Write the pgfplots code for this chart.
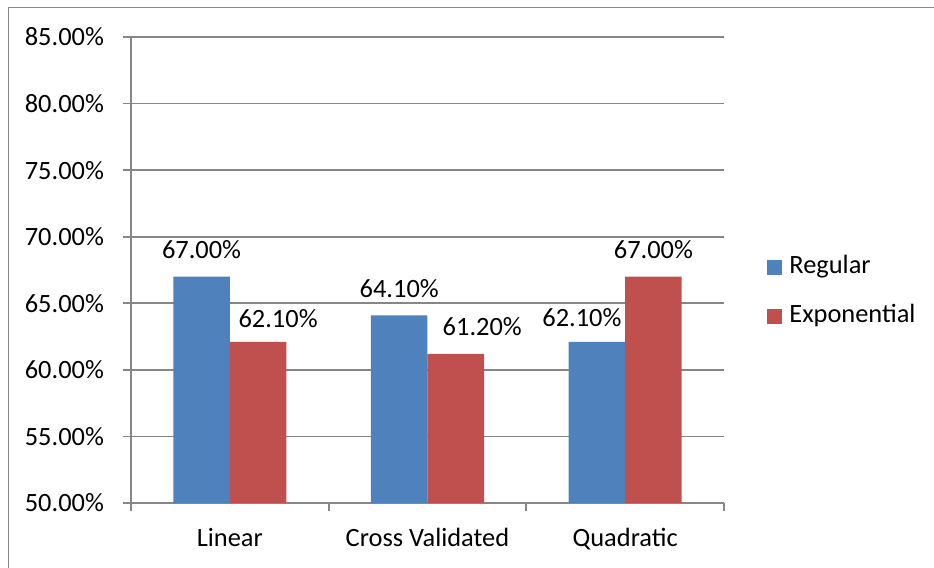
\documentclass[border=0pt]{standalone}
\usepackage{pgfplots}
\usepackage{pgfplotstable}
\pgfplotsset{compat=1.18}
\usepackage{fontspec}
\setmainfont{Carlito}
\definecolor{exblue}{HTML}{4F81BD}
\definecolor{exred}{HTML}{C0504D}
\definecolor{exgrid}{HTML}{868686}

\pgfplotstableread{
x y dx dy
0 67.0 0 0
1 64.1 0 0
2 62.1 -7.5 -1.5
}\regular
\pgfplotstableread{
x y dx dy
0 62.1 10 -2
1 61.2 13.25 0
2 67.0 0 0
}\expo

\begin{document}
\fontsize{13.2pt}{15.8pt}\selectfont
\begin{tikzpicture}[font=\fontsize{13.2pt}{15.8pt}\selectfont]
\path[use as bounding box] (-65.5pt,-32.5pt) rectangle (401.5pt,251.5pt);
\draw[exgrid, line width=0.7pt] (-61.25pt,-33pt) -- (-61.25pt,247.85pt) -- (402pt,247.85pt);
\begin{axis}[
  at={(0pt,0pt)}, anchor=south west, scale only axis,
  width=296.5pt, height=233pt,
  ymin=50, ymax=85, ytick={50,55,...,85},
  xmin=-0.5, xmax=2.5,
  xtick={-0.5,0.5,1.5,2.5}, xticklabels={},
  extra x ticks={0,1,2},
  extra x tick labels={Linear,Cross Validated,Quadratic},
  extra x tick style={major tick length=0pt, grid=none},
  xticklabel style={anchor=base, yshift=-22pt, inner sep=0pt},
  yticklabel={\pgfmathprintnumber[fixed,fixed zerofill,precision=2,assume math mode=true]{\tick}\%},
  yticklabel style={anchor=east, inner sep=0pt, xshift=-9.35pt},
  axis lines*=left,
  axis line style={exgrid, line width=0.9pt},
  ymajorgrids, grid style={exgrid, line width=0.9pt},
  tick style={exgrid, line width=0.9pt},
  tick align=outside, major tick length=4pt,
  ybar=0pt, bar width=0.286,
  clip=false,
  legend style={at={(axis description cs:1,0.4576)}, anchor=west, xshift=21.5pt, yshift=-1pt,
    draw=none, fill=none, inner sep=0pt, row sep=8.25pt,
    nodes={text height=9pt, text depth=3pt, inner ysep=2pt, inner xsep=3.5pt}},
  legend cell align=left,
  nodes near coords={\pgfmathprintnumber[fixed,fixed zerofill,precision=2,assume math mode=true]{\pgfplotspointmeta}\%},
]
\addplot[fill=exblue, draw=none, bar shift=-0.143,
  legend image code/.code={\fill[exblue] (0pt,-3.75pt) rectangle (7.5pt,3.75pt);},
  visualization depends on={\thisrow{dx} \as \dx},
  visualization depends on={\thisrow{dy} \as \dy},
  every node near coord/.append style={anchor=base, inner sep=0pt, text=black, xshift=\dx pt, yshift=9pt+\dy pt}]
  table[x=x,y=y] {\regular};
\addlegendentry{Regular}
\addplot[fill=exred, draw=none, bar shift=0.143,
  legend image code/.code={\fill[exred] (0pt,-3.75pt) rectangle (7.5pt,3.75pt);},
  visualization depends on={\thisrow{dx} \as \dx},
  visualization depends on={\thisrow{dy} \as \dy},
  every node near coord/.append style={anchor=base, inner sep=0pt, text=black, xshift=\dx pt, yshift=9pt+\dy pt}]
  table[x=x,y=y] {\expo};
\addlegendentry{Exponential}
\end{axis}
\end{tikzpicture}
\end{document}
